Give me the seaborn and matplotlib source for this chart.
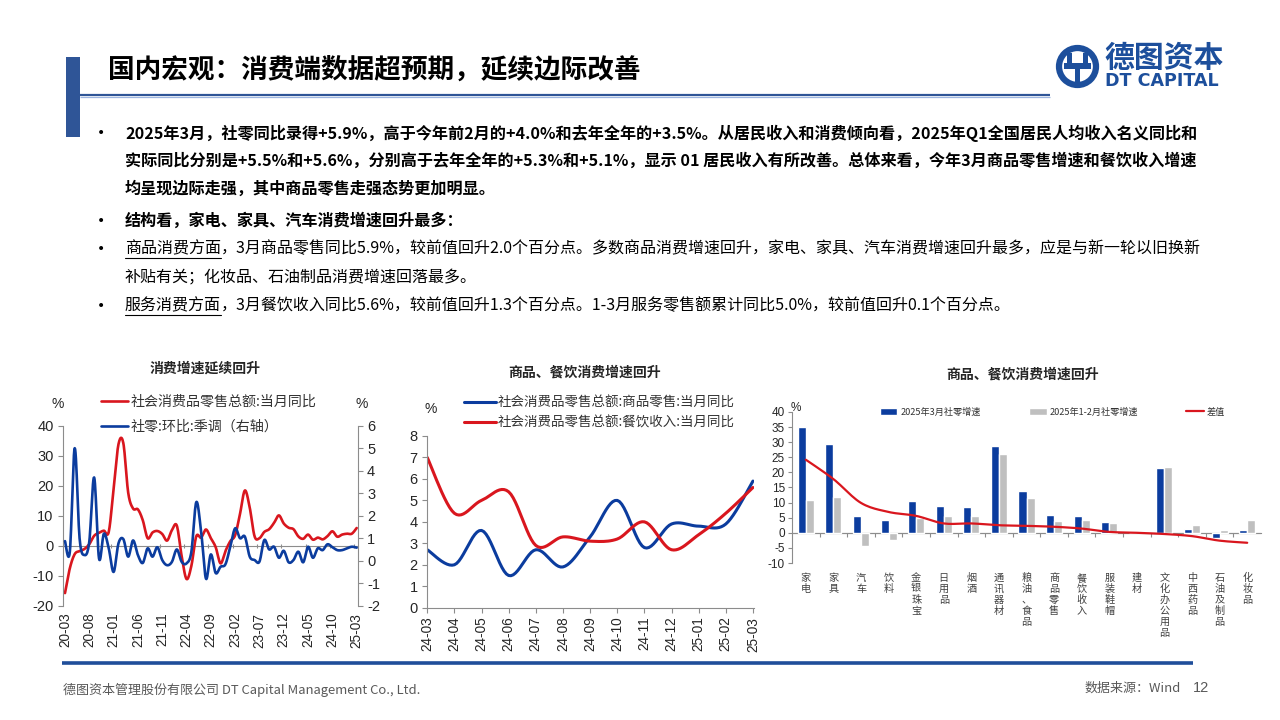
import numpy as np
import pandas as pd
import matplotlib
matplotlib.use("Agg")
import matplotlib.pyplot as plt
import seaborn as sns
from matplotlib.patches import Rectangle, Circle

# ---------------- data ----------------
c1_months = list(pd.period_range("2020-03", "2025-03", freq="M").strftime("%y-%m"))
c1_retail_yoy = [-15.8, -7.5, -2.8, -1.8, -1.1, 0.5, 3.3, 4.3, 5.0, 4.6,
                 19.0, 33.8, 34.2, 17.7, 12.4, 12.1, 8.5, 2.5, 4.4, 4.9, 3.9, 1.7,
                 5.2, 6.7, -3.5, -11.1, -6.7, 3.1, 2.7, 5.4, 2.5, -0.5, -5.9, -1.8,
                 1.5, 3.5, 10.6, 18.4, 12.7, 3.1, 2.5, 4.6, 5.5, 7.6, 10.1, 7.4,
                 6.0, 5.5, 3.1, 2.3, 3.7, 2.0, 2.7, 2.1, 3.2, 4.8, 3.0, 3.7,
                 4.0, 4.0, 5.9]
c1_retail_mom = [0.87, 0.40, 5.00, 1.00, 0.25, 0.85, 3.70, 0.10, 1.20, 0.55,
                 -0.50, 0.77, 0.96, 0.18, 0.90, 0.25, -0.10, 0.55, 0.18, 0.60, 0.03, -0.20,
                 -0.05, 0.50, -0.05, -0.12, 0.40, 2.60, 1.30, -0.80, 0.28, -0.55, -0.27, -0.16,
                 0.62, 1.44, 1.00, 1.07, 0.18, 0.03, -0.04, 0.92, 0.50, 0.62, 0.13, 0.44,
                 -0.07, 0.03, 0.40, -0.07, 0.62, 0.13, 0.55, 0.47, 0.73, 0.60, 0.47, 0.47,
                 0.55, 0.62, 0.58]
c1_labels = ["社会消费品零售总额:当月同比", "社零:环比:季调（右轴）"]

c2_months = ["24-03", "24-04", "24-05", "24-06", "24-07", "24-08", "24-09",
             "24-10", "24-11", "24-12", "25-01", "25-02", "25-03"]
c2_goods = [2.7, 2.0, 3.6, 1.5, 2.7, 1.9, 3.3, 5.0, 2.8, 3.9, 3.8, 3.9, 5.9]
c2_catering = [7.0, 4.4, 5.0, 5.4, 2.9, 3.3, 3.1, 3.2, 4.0, 2.7, 3.4, 4.4, 5.6]
c2_labels = ["社会消费品零售总额:商品零售:当月同比", "社会消费品零售总额:餐饮收入:当月同比"]

c3_cats = ["家电", "家具", "汽车", "饮料", "金银珠宝", "日用品", "烟酒", "通讯器材",
           "粮油、食品", "商品零售", "餐饮收入", "服装鞋帽", "建材", "文化办公用品",
           "中西药品", "石油及制品", "化妆品"]
c3_mar = [35.0, 29.5, 5.5, 4.4, 10.6, 8.8, 8.5, 28.6, 13.8, 5.9, 5.6, 3.6, 0.0, 21.4, 1.4, -1.8, 1.0]
c3_janfeb = [10.9, 11.7, -4.4, -2.5, 5.0, 5.6, 5.4, 26.1, 11.5, 3.9, 4.3, 3.3, 0.0, 21.8, 2.5, 0.8, 4.4]
c3_diff = [24.2, 17.8, 9.9, 6.9, 5.6, 3.1, 3.1, 2.5, 2.3, 2.0, 1.4, 0.3, 0.0, -0.4, -1.1, -2.6, -3.3]
c3_series = ["2025年3月社零增速", "2025年1-2月社零增速", "差值"]

# ---------------- style ----------------
RED = "#D9161E"
BLUE = "#0B3C9E"
GREY_BAR = "#BFBFBF"
AX_GREY = "#8C8C8C"
LOGO_BLUE = "#1D4F9C"
CJK = ["Noto Sans CJK SC", "DejaVu Sans"]
NUM = ["Liberation Sans", "Noto Sans CJK SC", "DejaVu Sans"]
NARROW = ["Liberation Sans Narrow", "Liberation Sans", "DejaVu Sans"]

sns.set_theme(style="white")
plt.rcParams["font.family"] = CJK
plt.rcParams["axes.unicode_minus"] = False

W, H = 1280, 720
fig = plt.figure(figsize=(12.8, 7.2), dpi=100)


def rect(l, t, r, b):
    return [l / W, 1 - b / H, (r - l) / W, (b - t) / H]


def smooth_xy(x, y, n=12):
    """Excel-like smoothed curve through the given points (drawing only)."""
    x = np.asarray(x, float)
    y = np.asarray(y, float)
    px = np.concatenate([[x[0]], x, [x[-1]]])
    py = np.concatenate([[y[0]], y, [y[-1]]])
    t = np.linspace(0, 1, n, endpoint=False)[:, None]
    xs, ys = [], []
    for i in range(len(x) - 1):
        p0 = np.array([px[i], py[i]])
        p1 = np.array([px[i + 1], py[i + 1]])
        p2 = np.array([px[i + 2], py[i + 2]])
        p3 = np.array([px[i + 3], py[i + 3]])
        c1 = p1 + (p2 - p0) / 6
        c2 = p2 - (p3 - p1) / 6
        seg = (1 - t) ** 3 * p1 + 3 * (1 - t) ** 2 * t * c1 + 3 * (1 - t) * t ** 2 * c2 + t ** 3 * p2
        xs.append(seg[:, 0])
        ys.append(seg[:, 1])
    xs.append([x[-1]])
    ys.append([y[-1]])
    return np.concatenate(xs), np.concatenate(ys)


# ---------------- background / page decoration ----------------
bg = fig.add_axes([0, 0, 1, 1])
bg.set_xlim(0, W)
bg.set_ylim(H, 0)
bg.axis("off")
bg.set_zorder(-1)

bg.add_patch(Rectangle((66, 57), 14, 80, color="#2F5597", lw=0))
bg.plot([80, 1050], [94.5, 94.5], color="#2F5597", lw=1.6, solid_capstyle="butt")
bg.plot([80, 1050], [96.6, 96.6], color="#9DB5E0", lw=0.9, solid_capstyle="butt")
bg.text(108, 70, "国内宏观：消费端数据超预期，延续边际改善", fontsize=19.2, weight="heavy",
        va="center", ha="left", color="#000000")

# logo
bg.add_patch(Circle((1077.5, 66.5), 18.5, fill=False, ec=LOGO_BLUE, lw=4.5))
bg.add_patch(Rectangle((1064, 63), 27, 6, color=LOGO_BLUE, lw=0))
bg.add_patch(Rectangle((1067, 53), 5, 12, color=LOGO_BLUE, lw=0))
bg.add_patch(Rectangle((1083, 53), 5, 12, color=LOGO_BLUE, lw=0))
bg.add_patch(Rectangle((1075, 67), 5, 17, color=LOGO_BLUE, lw=0))
bg.text(1104, 58, "德图资本", fontsize=21.5, weight="bold", color=LOGO_BLUE, va="center", ha="left")
bg.text(1105, 81, "DT CAPITAL", fontsize=12.6, weight="bold", color=LOGO_BLUE, va="center", ha="left",
        family=["DejaVu Sans"])

# bullet text
renderer = fig.canvas.get_renderer()
lines = [
    (133, True, True, None, "2025年3月，社零同比录得+5.9%，高于今年前2月的+4.0%和去年全年的+3.5%。从居民收入和消费倾向看，2025年Q1全国居民人均收入名义同比和"),
    (161, False, True, None, "实际同比分别是+5.5%和+5.6%，分别高于去年全年的+5.3%和+5.1%，显示 01 居民收入有所改善。总体来看，今年3月商品零售增速和餐饮收入增速"),
    (189, False, True, None, "均呈现边际走强，其中商品零售走强态势更加明显。"),
    (221, True, True, None, "结构看，家电、家具、汽车消费增速回升最多："),
    (249, True, False, "商品消费方面", "，3月商品零售同比5.9%，较前值回升2.0个百分点。多数商品消费增速回升，家电、家具、汽车消费增速回升最多，应是与新一轮以旧换新"),
    (277, False, False, None, "补贴有关；化妆品、石油制品消费增速回落最多。"),
    (306, True, False, "服务消费方面", "，3月餐饮收入同比5.6%，较前值回升1.3个百分点。1-3月服务零售额累计同比5.0%，较前值回升0.1个百分点。"),
]
for y, bullet, bold, under, body in lines:
    size = 11.62 if bold else 11.5
    if bullet:
        bg.text(97, y, "•", fontsize=10, va="center", ha="left", color="#000000", family=["DejaVu Sans"])
    x0 = 125
    if under:
        t = bg.text(x0, y, under, fontsize=size, va="center", ha="left", color="#000000")
        bb = t.get_window_extent(renderer=renderer)
        wpx = bb.width
        bg.plot([x0, x0 + wpx], [y + 9, y + 9], color="#000000", lw=0.8)
        x0 = x0 + wpx
    bg.text(x0, y, body, fontsize=size, weight="bold" if bold else "normal",
            va="center", ha="left", color="#000000")

# chart titles
bg.text(205, 369, "消费增速延续回升", fontsize=10, weight="bold", ha="center", va="center")
bg.text(585, 373, "商品、餐饮消费增速回升", fontsize=10, weight="bold", ha="center", va="center")
bg.text(1023, 375, "商品、餐饮消费增速回升", fontsize=10, weight="bold", ha="center", va="center")

# % units
bg.text(58, 404, "%", fontsize=10, ha="center", va="center", family=NUM)
bg.text(362, 404, "%", fontsize=10, ha="center", va="center", family=NUM)
bg.text(431, 409, "%", fontsize=10, ha="center", va="center", family=NUM)
bg.text(796, 408, "%", fontsize=8.5, ha="center", va="center", family=NARROW)

# bottom rule + footer
bg.plot([62, 1193], [663, 663], color="#1F4E9A", lw=2.6, solid_capstyle="butt")
bg.text(63, 690, "德图资本管理股份有限公司 DT Capital Management Co., Ltd.", fontsize=9.4,
        color="#595959", va="center", ha="left")
bg.text(1085, 688, "数据来源：Wind", fontsize=9.4, color="#595959", va="center", ha="left")
bg.text(1193, 688, "12", fontsize=10.5, color="#595959", va="center", ha="left", family=NUM)

# ---------------- chart 1 ----------------
ax1 = fig.add_axes(rect(62.7, 425.7, 358, 605.7))
x1 = np.arange(len(c1_retail_yoy))
xs, ys = smooth_xy(x1, c1_retail_yoy)
sns.lineplot(x=xs, y=ys, ax=ax1, color=RED, lw=1.9, sort=False, estimator=None)
ax1.set_ylim(-20, 40)
ax1.set_xlim(-0.47, 60.27)
ax1.set_yticks(range(-20, 41, 10))
ax1.set_xticks(x1[::5])
ax1.set_xticklabels([c1_months[i] for i in x1[::5]], rotation=90, fontsize=9.8, family=NUM)
ax1.set_yticklabels([str(v) for v in range(-20, 41, 10)], fontsize=10.5, family=NUM)
ax1.tick_params(axis="x", length=0, pad=5)
ax1.tick_params(axis="y", left=True, length=3.5, width=0.8, color=AX_GREY, direction="out", pad=3)
for s in ["top", "right", "bottom"]:
    ax1.spines[s].set_visible(False)
ax1.spines["left"].set_color(AX_GREY)
ax1.spines["left"].set_linewidth(0.8)
ax1.set_xlabel("")
ax1.set_ylabel("")
ax1.patch.set_alpha(0)

sec1 = ax1.secondary_xaxis(1 / 3)
sec1.set_xticks(np.arange(4.5, 60, 5))
sec1.set_xticklabels([])
sec1.tick_params(axis="x", bottom=True, length=3, width=0.8, color=AX_GREY, direction="inout")
for s in sec1.spines.values():
    s.set_color(AX_GREY)
    s.set_linewidth(0.8)

ax1b = ax1.twinx()
xs, ys = smooth_xy(x1, c1_retail_mom)
sns.lineplot(x=xs, y=ys, ax=ax1b, color=BLUE, lw=1.9, sort=False, estimator=None)
ax1b.set_ylim(-2, 6)
ax1b.set_yticks(range(-2, 7))
ax1b.set_yticklabels([str(v) for v in range(-2, 7)], fontsize=10.5, family=NUM)
ax1b.tick_params(axis="y", right=True, length=3.5, width=0.8, color=AX_GREY, direction="out", pad=3)
for s in ["top", "left", "bottom"]:
    ax1b.spines[s].set_visible(False)
ax1b.spines["right"].set_color(AX_GREY)
ax1b.spines["right"].set_linewidth(0.8)
ax1b.set_ylabel("")
ax1b.grid(False)
ax1.grid(False)

fig.legend([ax1.lines[0], ax1b.lines[0]], c1_labels, loc="upper left",
           bbox_to_anchor=(101 / W, 1 - 395 / H), frameon=False, fontsize=10.1,
           handlelength=1.95, handletextpad=0.15, labelspacing=0.75, borderpad=0,
           borderaxespad=0, labelcolor="#333333")

# ---------------- chart 2 ----------------
ax2 = fig.add_axes(rect(426.7, 436, 753.5, 607.7))
x2 = np.arange(len(c2_goods))
xs, ys = smooth_xy(x2, c2_goods)
sns.lineplot(x=xs, y=ys, ax=ax2, color=BLUE, lw=2.2, sort=False, estimator=None)
xs, ys = smooth_xy(x2, c2_catering)
sns.lineplot(x=xs, y=ys, ax=ax2, color=RED, lw=2.2, sort=False, estimator=None)
ax2.set_ylim(0, 8)
ax2.set_xlim(-0.02, 12.02)
ax2.set_yticks(range(0, 9))
ax2.set_yticklabels([str(v) for v in range(0, 9)], fontsize=10.5, family=NUM)
ax2.set_xticks(x2)
ax2.set_xticklabels(c2_months, rotation=90, fontsize=9.8, family=NUM)
ax2.tick_params(axis="both", left=True, bottom=True, length=3.5, width=0.8, color=AX_GREY, direction="out", pad=3)
for s in ["top", "right"]:
    ax2.spines[s].set_visible(False)
for s in ["left", "bottom"]:
    ax2.spines[s].set_color(AX_GREY)
    ax2.spines[s].set_linewidth(0.8)
ax2.set_xlabel("")
ax2.set_ylabel("")
ax2.grid(False)
ax2.patch.set_alpha(0)

fig.legend([ax2.lines[0], ax2.lines[1]], c2_labels, loc="upper left",
           bbox_to_anchor=(464 / W, 1 - 396 / H), frameon=False, fontsize=9.7,
           handlelength=2.4, handletextpad=0.12, labelspacing=0.42, borderpad=0,
           borderaxespad=0, labelcolor="#333333")

# ---------------- chart 3 ----------------
ax3 = fig.add_axes(rect(792, 412, 1261, 563))
ax3.axhline(0, color=AX_GREY, lw=0.8, zorder=0.5)
df3 = pd.DataFrame({
    "cat": c3_cats + c3_cats,
    "val": c3_mar + c3_janfeb,
    "series": [c3_series[0]] * len(c3_cats) + [c3_series[1]] * len(c3_cats),
})
sns.barplot(data=df3, x="cat", y="val", hue="series", order=c3_cats,
            hue_order=c3_series[:2], palette=[BLUE, GREY_BAR], width=0.58,
            gap=0, dodge=True, ax=ax3, legend=False, saturation=1, errorbar=None)
x3 = np.arange(len(c3_cats))
xs, ys = smooth_xy(x3, c3_diff)
sns.lineplot(x=xs, y=ys, ax=ax3, color=RED, lw=1.6, sort=False, estimator=None)
ax3.set_ylim(-10, 40)
ax3.set_xlim(-0.5, 16.5)
ax3.set_yticks(range(-10, 41, 5))
ax3.set_yticklabels([str(v) for v in range(-10, 41, 5)], fontsize=8.5, family=NARROW)
ax3.set_xticks(x3)
ax3.set_xticklabels(["\n".join(c) for c in c3_cats], fontsize=7.3, linespacing=1.12,
                    color="#404040", va="top")
ax3.tick_params(axis="x", length=0, pad=7)
ax3.tick_params(axis="y", left=True, length=3, width=0.8, color=AX_GREY, direction="out", pad=2)
for s in ["top", "right", "bottom"]:
    ax3.spines[s].set_visible(False)
ax3.spines["left"].set_color(AX_GREY)
ax3.spines["left"].set_linewidth(0.8)
ax3.set_xlabel("")
ax3.set_ylabel("")
ax3.grid(False)
ax3.patch.set_alpha(0)

sec3 = ax3.secondary_xaxis(0.2)
sec3.set_xticks(np.arange(0.5, 16, 1))
sec3.set_xticklabels([])
sec3.tick_params(axis="x", bottom=True, length=3, width=0.8, color=AX_GREY, direction="out")
for s in sec3.spines.values():
    s.set_color(AX_GREY)
    s.set_linewidth(0.8)

fig.legend([ax3.containers[0], ax3.containers[1], ax3.lines[-1]], c3_series, loc="center left",
           bbox_to_anchor=(880 / W, 1 - 412 / H), ncol=3, frameon=False, fontsize=6.6,
           handlelength=1.9, handleheight=0.7, handletextpad=0.3, columnspacing=5.3,
           borderpad=0, borderaxespad=0, labelcolor="#333333")

fig.savefig("out.png", dpi=100)
